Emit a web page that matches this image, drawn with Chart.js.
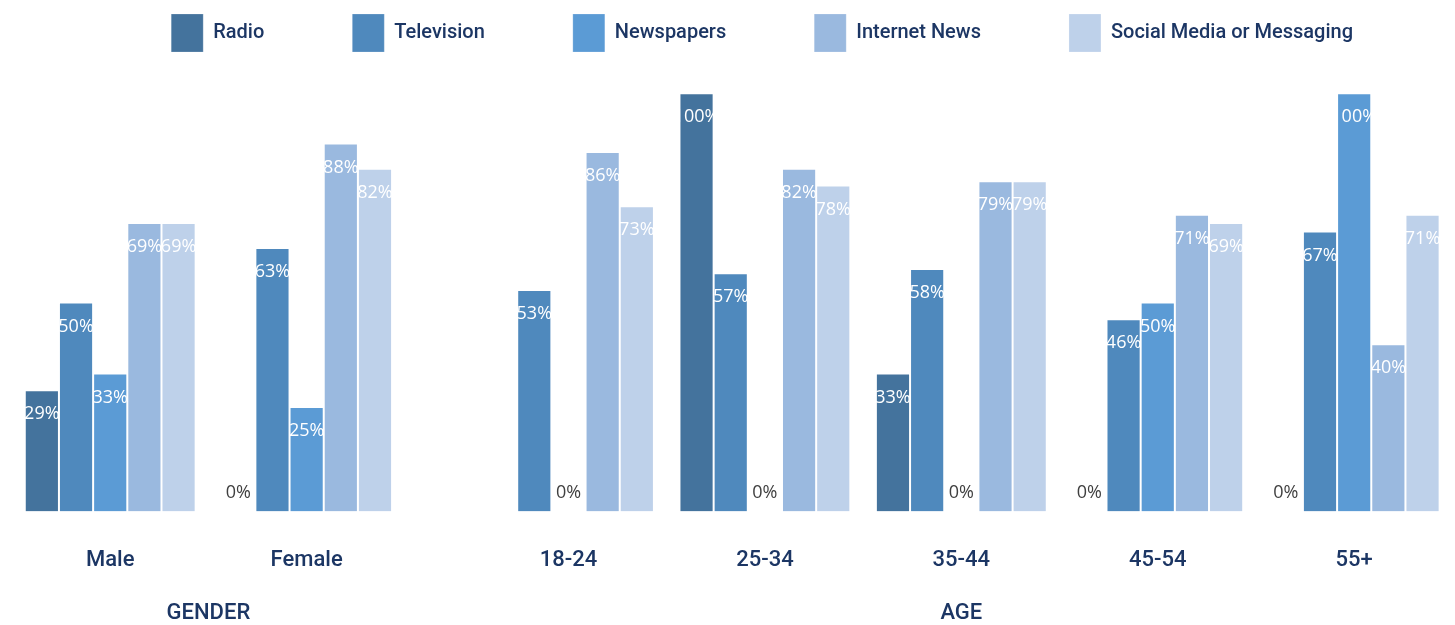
<!DOCTYPE html>
<html>
<head>
<meta charset="utf-8">
<title>News sources by gender and age</title>
<script src="https://cdn.jsdelivr.net/npm/chart.js@4/dist/chart.umd.min.js"></script>
<style>
  html, body { margin: 0; padding: 0; background: #fff; }
  #wrap { width: 1455px; height: 625px; position: relative; }
</style>
</head>
<body>
<div id="wrap"><canvas id="medios"></canvas></div>
<script>
// categories and the group each one belongs to
var categories = ['Male', 'Female', '18-24', '25-34', '35-44', '45-54', '55+'];
var groups = ['GENDER', 'GENDER', 'AGE', 'AGE', 'AGE', 'AGE', 'AGE'];

// share of respondents (%) per source; null = no answer in that group
var radio = [29, 0, null, 100, 33, 0, 0];
var television = [50, 63, 53, 57, 58, 46, 67];
var newspapers = [33, 25, 0, 0, 0, 50, 100];
var internetNews = [69, 88, 86, 82, 79, 71, 40];
var socialMedia = [69, 82, 73, 78, 79, 69, 71];

var navy = '#1c3664';
var groupGap = 0.333;   // extra space between GENDER and AGE blocks
var legendGap = 88;     // spacing between legend items

// x position of each category on the linear axis
var xPos = [];
var grp = 0;
for (var i = 0; i < categories.length; i++) {
    if (i > 0 && groups[i] !== groups[i - 1]) grp++;
    xPos.push(i + grp * groupGap);
}

function serie(values) {
    return values.map(function (v, i) { return { x: xPos[i], y: v }; });
}

function dataset(label, values, color) {
    return {
        label: label,
        data: serie(values),
        backgroundColor: color,
        borderColor: 'rgba(255,255,255,0.2)',
        borderWidth: 1,
        categoryPercentage: 0.87,
        barPercentage: 1
    };
}

// values written on the bars
var etiquetas = {
    id: 'etiquetas',
    afterDatasetsDraw: function (chart) {
        var ctx = chart.ctx;
        ctx.save();
        ctx.font = '18px "Open Sans"';
        ctx.textAlign = 'center';
        ctx.textBaseline = 'middle';
        chart.data.datasets.forEach(function (ds, d) {
            var meta = chart.getDatasetMeta(d);
            meta.data.forEach(function (bar, j) {
                var v = ds.data[j].y;
                if (v === null) return;
                var txt = v + '%';
                if (v === 0) {
                    ctx.fillStyle = '#404040';
                    ctx.fillText(txt, bar.x, bar.base - 19);
                    return;
                }
                ctx.save();
                ctx.beginPath();
                ctx.rect(bar.x - bar.width / 2, bar.y, bar.width, bar.base - bar.y);
                ctx.clip();
                ctx.fillStyle = '#ffffff';
                ctx.fillText(txt, bar.x, bar.y + 24);
                ctx.restore();
            });
        });
        ctx.restore();
    }
};

// GENDER / AGE under the category names
var grupos = {
    id: 'grupos',
    afterDraw: function (chart) {
        var ctx = chart.ctx;
        var x = chart.scales.x;
        var nombres = [];
        groups.forEach(function (g) { if (nombres.indexOf(g) < 0) nombres.push(g); });
        ctx.save();
        ctx.font = '500 22px Roboto';
        ctx.fillStyle = navy;
        ctx.textAlign = 'center';
        ctx.textBaseline = 'middle';
        nombres.forEach(function (g) {
            var pos = xPos.filter(function (p, i) { return groups[i] === g; });
            var mid = (pos[0] + pos[pos.length - 1]) / 2;
            ctx.fillText(g, x.getPixelForValue(mid), 613);
        });
        ctx.restore();
    }
};

Chart.defaults.font.family = 'Roboto';

var ctxMedios = document.getElementById('medios');
var grafico = new Chart(ctxMedios, {
    type: 'bar',
    data: {
        datasets: [
            dataset('Radio', radio, '#44739d'),
            dataset('Television', television, '#4f89bd'),
            dataset('Newspapers', newspapers, '#5b9bd5'),
            dataset('Internet News', internetNews, '#9ab9df'),
            dataset('Social Media or Messaging', socialMedia, '#bed1ea')
        ]
    },
    options: {
        responsive: true,
        maintainAspectRatio: false,
        animation: false,
        layout: {
            padding: { top: 14 - legendGap, left: 12, right: 14, bottom: 15 }
        },
        plugins: {
            tooltip: { enabled: false },
            legend: {
                position: 'top',
                align: 'end',
                labels: {
                    boxWidth: 32,
                    boxHeight: 38,
                    padding: legendGap,
                    color: navy,
                    font: { size: 20, weight: '500', family: 'Roboto' }
                }
            }
        },
        scales: {
            x: {
                type: 'linear',
                offset: false,
                min: -0.5,
                max: 6.775,
                grid: { display: false, drawTicks: false, offset: false },
                border: { display: false },
                afterBuildTicks: function (axis) {
                    axis.ticks = xPos.map(function (v) { return { value: v }; });
                },
                ticks: {
                    autoSkip: false,
                    maxRotation: 0,
                    padding: 36,
                    color: navy,
                    font: { size: 22, weight: '500' },
                    callback: function (value, index) { return categories[index]; }
                }
            },
            y: {
                display: false,
                min: 0,
                max: 107.5
            }
        }
    },
    plugins: [etiquetas, grupos]
});
</script>
</body>
</html>
